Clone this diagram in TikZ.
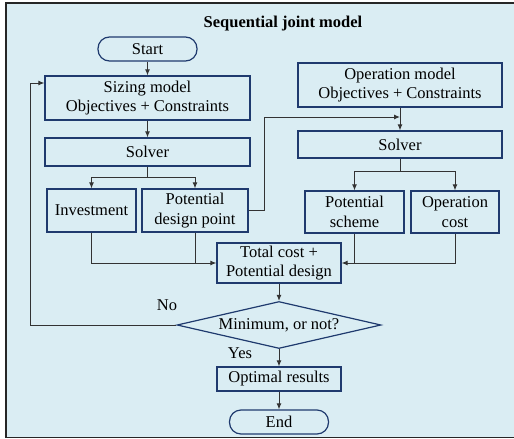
\documentclass[tikz,border=0pt]{standalone}
\usepackage{fontspec}
\setmainfont{Liberation Serif}
\usetikzlibrary{shapes.geometric,arrows.meta,calc}
\definecolor{bgblue}{HTML}{DAEDF3}
\definecolor{boxblue}{HTML}{1F3A6E}
\definecolor{linegray}{HTML}{333333}
\begin{document}
\begin{tikzpicture}[x=1pt,y=-1pt,
  every node/.style={font=\fontsize{16.5}{19.8}\selectfont, inner sep=0pt, align=center},
  box/.style={draw=boxblue, line width=1.2pt, rectangle},
  term/.style={draw=boxblue, line width=1.2pt, rectangle, rounded corners=11.5pt},
  dia/.style={draw=boxblue, line width=1.2pt, diamond, shape aspect=4.34},
  arr/.style={draw=linegray, line width=1pt, -{Latex[length=6pt,width=5pt]}},
  ln/.style={draw=linegray, line width=1pt},
  lbl/.style={font=\fontsize{16.5}{19.8}\selectfont}]
\clip (0,0) rectangle (514,439);
\draw[fill=bgblue, draw=black!85, line width=1.2pt] (6,3) rectangle (522,437.5);

\node[font=\fontsize{16.5}{19.8}\selectfont\bfseries] (title) at (283,24) {Sequential joint model};

\node[term, minimum width=99, minimum height=24] (start) at (147.5,49) {Start};
\node[box, minimum width=205, minimum height=44] (sizing) at (147.5,98) {Sizing model\\Objectives + Constraints};
\node[box, minimum width=205, minimum height=28] (solverL) at (147.5,152) {Solver};
\node[box, minimum width=89, minimum height=43] (invest) at (91.5,210.5) {Investment};
\node[box, minimum width=106, minimum height=43] (pdp) at (195,210.5) {Potential\\design point};

\node[box, minimum width=204, minimum height=44] (opm) at (400,85) {Operation model\\Objectives + Constraints};
\node[box, minimum width=204, minimum height=27] (solverR) at (400,144.5) {Solver};
\node[box, minimum width=99, minimum height=42] (psch) at (354.5,212) {Potential\\scheme};
\node[box, minimum width=88, minimum height=42] (opcost) at (455,212) {Operation\\cost};

\node[box, minimum width=124, minimum height=40] (total) at (279,263) {Total cost +\\Potential design};
\node[dia, minimum width=204, minimum height=47] (dec) at (279,325) {Minimum, or not?};
\node[box, minimum width=124, minimum height=24] (opt) at (279,379) {Optimal results};
\node[term, minimum width=99, minimum height=24] (end) at (279,422) {End};

\node[lbl] (no) at (167,305) {No};
\node[lbl] (yes) at (240,353) {Yes};

\coordinate (mid) at (400,117);
\coordinate (lp) at (30,83);

\draw[arr] (start) -- (sizing);
\draw[arr] (sizing) -- (solverL);
\draw[arr] (solverL.south) -- ++(0,11) -| (invest.north);
\draw[arr] (solverL.south) -- ++(0,11) -| (pdp.north);
\draw[arr] (pdp.east) -- ++(16,0) |- (mid);
\draw[arr] (opm) -- (solverR);
\draw[arr] (solverR.south) -- ++(0,13) -| (psch.north);
\draw[arr] (solverR.south) -- ++(0,13) -| (opcost.north);
\draw[arr] (invest.south) |- (total.west);
\draw[ln] (pdp.south) -- (pdp.south |- total.west);
\draw[arr] (opcost.south) |- (total.east);
\draw[ln] (psch.south) -- (psch.south |- total.east);
\draw[arr] (total) -- (dec);
\draw[arr] (dec.west) -| (lp) -- (sizing.west |- lp);
\draw[arr] (dec) -- (opt);
\draw[arr] (opt) -- (end);
\end{tikzpicture}
\end{document}
